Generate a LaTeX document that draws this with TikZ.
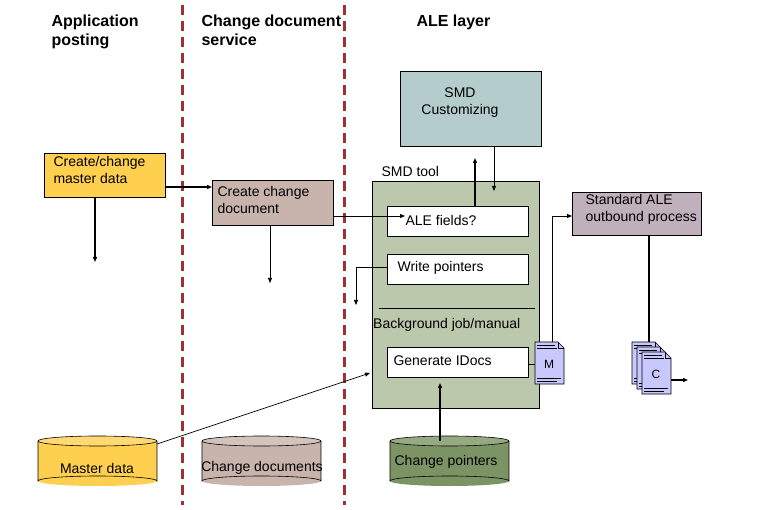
\documentclass[tikz,border=0pt]{standalone}
\usepackage{fontspec}
\setmainfont{Liberation Sans}
\usetikzlibrary{arrows.meta}
\definecolor{yel}{HTML}{FFD050}
\definecolor{cdoc}{HTML}{C8B4AC}
\definecolor{smdc}{HTML}{B4CCCC}
\definecolor{tool}{HTML}{BCC8AC}
\definecolor{std}{HTML}{C0B0BC}
\definecolor{cptr}{HTML}{7C9464}
\definecolor{docb}{HTML}{C8C8FC}
\definecolor{divcol}{HTML}{A03038}
\begin{document}
\begin{tikzpicture}[x=1pt,y=-1pt,
  box/.style={draw,line width=0.8pt,inner sep=0pt},
  head/.style={font=\bfseries\fontsize{16}{19}\selectfont,align=left,anchor=north west},
  lbl/.style={font=\fontsize{14}{17}\selectfont},
  arr/.style={-{Triangle[length=5pt,width=4pt]},line width=0.7pt},
  arrb/.style={-{Triangle[length=5pt,width=4pt]},line width=1.6pt}]
\useasboundingbox (0,0) rectangle (768,510);
\fill[white] (0,0) rectangle (768,510);
% dividers
\draw[divcol,line width=3pt,dash pattern=on 10pt off 6pt] (182,5) -- (182,505);
\draw[divcol,line width=3pt,dash pattern=on 10pt off 6pt] (344,5) -- (344,505);
% headings
\node[head] (h1) at (48,11) {Application\\posting};
\node[head] (h2) at (198,11) {Change document\\service};
\node[head] (h3) at (413,11) {ALE layer};
% boxes
\node[box,fill=yel,minimum width=121pt,minimum height=44pt,anchor=north west] (ccm) at (44,153) {};
\node[lbl,anchor=north west,align=left] (ccmt) at (50,153) {Create/change\\master data};
\node[box,fill=cdoc,minimum width=121pt,minimum height=45pt,anchor=north west] (ccd) at (212,180) {};
\node[lbl,anchor=north west,align=left] (ccdt) at (214,183) {Create change\\document};
\node[box,fill=smdc,minimum width=141pt,minimum height=75pt,anchor=north west] (smdc) at (400,71) {};
\node[lbl,anchor=north,align=center] (smdct) at (460,84) {SMD\\Customizing};
\node[lbl,anchor=south west] (smdt) at (378,180) {SMD tool};
\node[box,fill=tool,minimum width=167pt,minimum height=227pt,anchor=north west] (tool) at (372,181) {};
\node[box,fill=white,minimum width=141pt,minimum height=30pt,anchor=north west] (ale) at (387,206) {};
\node[lbl,anchor=west] (alet) at (402,220) {ALE fields?};
\node[box,fill=white,minimum width=141pt,minimum height=30pt,anchor=north west] (wp) at (387,254) {};
\node[lbl,anchor=west] (wpt) at (394,268) {Write pointers};
\draw[line width=0.7pt] (379,308) -- (535,308);
\node[lbl,anchor=west,inner sep=1pt] (bg) at (372,325) {Background job/manual};
\node[box,fill=white,minimum width=141pt,minimum height=30pt,anchor=north west] (gen) at (387,347) {};
\node[lbl,anchor=west] (gent) at (390,361) {Generate IDocs};
\node[box,fill=std,minimum width=129pt,minimum height=43pt,anchor=north west] (std) at (572,192) {};
\node[lbl,anchor=north west,align=left] (stdt) at (582,191) {Standard ALE\\outbound process};
% documents
\newcommand{\docshape}[3]{% x,y top-left, label
  \draw[line width=0.6pt,fill=docb] (#1,#2) -- ++(23,0) -- ++(6,6) -- ++(0,36) -- ++(-29,0) -- cycle;
  \draw[line width=0.5pt] (#1+23,#2) -- ++(0,6) -- ++(6,0);
  \draw[line width=0.5pt] (#1+2,#2+3) -- ++(18,0) (#1+2,#2+6) -- ++(20,0) (#1+2,#2+36) -- ++(24,0) (#1+2,#2+39) -- ++(20,0);
  \node[lbl,font=\fontsize{12}{14}\selectfont] at (#1+14,#2+22) {#3};}
\docshape{535}{342}{M}
\docshape{632}{342}{}
\docshape{637}{347}{}
\docshape{642}{352}{C}
\coordinate (mdoc) at (552,342);
\coordinate (cdc) at (649,342);
% cylinders
\newcommand{\cyl}[4]{% x,y,color,name
  \fill[#3] (#1,#2) rectangle (#1+119,#2+40);
  \fill[#3] (#1+59.5,#2+40) ellipse (59.5 and 5);
  \draw[line width=0.6pt] (#1,#2) -- (#1,#2+40) arc[start angle=180,end angle=360,x radius=59.5,y radius=5] -- (#1+119,#2);
  \draw[line width=0.6pt,fill=#3!80!white] (#1+59.5,#2) ellipse (59.5 and 5);
  \coordinate (#4) at (#1+59.5,#2);}
\cyl{38}{441}{yel}{md}
\cyl{202}{441}{cdoc}{cd}
\cyl{390}{441}{cptr}{cp}
\node[lbl] (mdt) at (97,468) {Master data};
\node[lbl] (cdt) at (262,468) {Change documents};
\node[lbl] (cpt) at (446,462) {Change pointers};
% connectors
\coordinate (a1) at (95,262);
\draw[arrb] (ccm.south -| a1) -- (a1);
\draw[arrb] (ccm.east |- 0,187) -- (ccd.west |- 0,187);
\coordinate (a2) at (270,283);
\draw[arr] (270,226) -- (a2);
\draw[arr] (ccd.east |- 0,216) -- (405,216);
\coordinate (a3) at (356,305);
\draw[arr] (wp.west |- 0,267) -- (356,267) -- (a3);
\coordinate (a4) at (370,373);
\draw[arr] (157,444) -- (a4);
\coordinate (a6) at (440,383);
\draw[arrb] (a6 |- cp.north) -- (a6);
\draw[arrb] (ale.north -| 475,0) -- (475,158);
\draw[arr] (smdc.south -| 494,0) -- (494,191);
\draw[line width=0.7pt] (gen.east |- 0,364) -- (535,364);
\draw[arrb,line width=0.8pt] (mdoc) -- (552,216) -- (std.west |- 0,216);
\draw[line width=1.6pt] (std.south -| cdc) -- (cdc);
\coordinate (a5) at (688,380);
\draw[arrb] (671,380) -- (a5);
\end{tikzpicture}
\end{document}
